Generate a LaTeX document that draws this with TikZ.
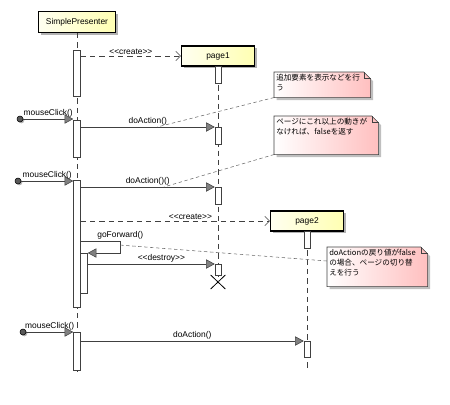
\documentclass[tikz,border=0pt]{standalone}
\usepackage{fontspec}
\setmainfont{Liberation Sans}
\newfontfamily\jpfont{Noto Sans CJK JP}
\usetikzlibrary{arrows.meta,positioning,calc,shadows,shapes.misc}

\begin{document}
\begin{tikzpicture}[x=0.75pt,y=-0.75pt,
			every node/.style={font=\fontsize{6.3}{7.5}\selectfont},
			head/.style={rectangle, draw=black, line width=0.9pt, left color=yellow!6, right color=yellow!30, minimum width=54.75pt, minimum height=15pt, inner sep=0pt, drop shadow={shadow xshift=1.8pt, shadow yshift=-1.8pt, fill=black!30, opacity=1}},
			actbar/.style={rectangle, draw=black!75, fill=white, minimum width=4.5pt, minimum height=12.75pt, inner sep=0pt, anchor=north},
			lifeline/.style={draw=black!75, dash pattern=on 4pt off 3pt},
			msg/.style={draw=black!75, -{Triangle[length=6.5pt, width=7pt, fill=black!50]}},
			createmsg/.style={draw=black!75, dash pattern=on 4pt off 3pt, -{Straight Barb[length=3.5pt, width=7pt]}},
			lab/.style={above, inner sep=1pt},
			found/.style={circle, draw=black, fill=black!65, minimum size=4.5pt, inner sep=0pt, drop shadow={shadow xshift=1pt, shadow yshift=-1pt, fill=black!30, opacity=1}},
			notebox/.style={rectangle, anchor=north west, inner sep=0pt},
			notetext/.style={anchor=north west, align=left, inner sep=1.5pt, font=\jpfont\fontsize{5.7}{7.5}\selectfont},
			notelink/.style={draw=black!60, dash pattern=on 2.5pt off 2pt},
			destroyx/.style={cross out, draw=black, line width=0.6pt, minimum width=10.5pt, minimum height=10pt, inner sep=0pt}
			]
			\useasboundingbox (0,0) rectangle (450,404);
			
			\node[head, minimum width=57.75pt, minimum height=15.75pt] (sp) at (77,22) {SimplePresenter};
			\node[head] (p1) at (218,56) {page1};
			\node[head] (p2) at (307,221) {page2};
			
			\coordinate (spend) at (77,372);
			\coordinate (p2end) at (307,369);
			\node[destroyx] (p1x) at (218,282) {};
			
			\draw[lifeline] (sp) -- (spend);
			\draw[lifeline] (p1) -- (p1x.center);
			\draw[lifeline] (p2) -- (p2end);
			
			\node[actbar, minimum width=5.25pt, minimum height=34.5pt] (a1) at (77,50) {};
			\node[actbar, minimum width=5.25pt, minimum height=27.75pt] (a2) at (77,120) {};
			\node[actbar, minimum width=5.25pt, minimum height=95.25pt] (a3) at (77,180) {};
			\node[actbar, minimum width=5.25pt, minimum height=30pt] (a3b) at (84,253) {};
			\node[actbar, minimum width=5.25pt, minimum height=28.5pt] (a4) at (77,332) {};
			\node[actbar] (p1a1) at (218,66) {};
			\node[actbar] (p1a2) at (218,127) {};
			\node[actbar] (p1a3) at (218,187) {};
			\node[actbar, minimum height=8.25pt] (p1a4) at (218,264) {};
			\node[actbar] (p2a1) at (307,231) {};
			\node[actbar, minimum height=12pt] (p2a2) at (307,341) {};
			
			\node[found] (f1) at (20,119) {};
			\node[found] (f2) at (18,181) {};
			\node[found] (f3) at (23,332) {};
			
			\draw[createmsg] (a1.east |- p1.west) -- (p1.west) node[lab, midway] {{<}{<}create{>}{>}};
			
			\draw[msg] (f1) -- (f1 -| a2.west) node[lab, midway] {mouseClick()};
			\draw[msg] (a2.east |- p1a2.north) -- (p1a2.north west) node[lab, midway] {doAction()} coordinate[pos=0.57] (m1);
			
			\draw[msg] (f2) -- (f2 -| a3.west) node[lab, midway] {mouseClick()};
			\draw[msg] (a3.east |- p1a3.north) -- (p1a3.north west) node[lab, midway] {doAction()()} coordinate[pos=0.62] (m2);
			\draw[createmsg] (a3.east |- p2.west) -- (p2.west) node[lab, pos=0.58] {{<}{<}create{>}{>}};
			\draw[msg] ([yshift=9pt]a3b.north west) -- ++(40,0) node[lab] {goForward()} |- (a3b.north east) coordinate[pos=0.17] (m3);
			\draw[msg] (a3b.east |- p1a4.north) -- (p1a4.north west) node[lab, pos=0.58] {{<}{<}destroy{>}{>}};
			
			\draw[msg] (f3) -- (f3 -| a4.west) node[lab, midway] {mouseClick()};
			\draw[msg] (a4.east |- p2a2.north) -- (p2a2.north west) node[lab, midway] {doAction()};
			
			% notes
			\node[notebox, minimum width=72pt, minimum height=18.75pt] (n1) at (274,72) {};
			\node[notebox, minimum width=78pt, minimum height=28.5pt] (n2) at (274,116) {};
			\node[notebox, minimum width=75pt, minimum height=29.25pt] (n3) at (327,247) {};
			\foreach \n in {n1,n2,n3} {
				\fill[black!25, transform canvas={shift={(2pt,-2pt)}}] (\n.south west) -- (\n.north west) -- ([xshift=-5pt]\n.north east) -- ([yshift=-5pt]\n.north east) -- (\n.south east) -- cycle;
				\shadedraw[left color=white, right color=red!25, draw=black!75] (\n.south west) -- (\n.north west) -- ([xshift=-5pt]\n.north east) -- ([yshift=-5pt]\n.north east) -- (\n.south east) -- cycle;
				\draw[black!75] ([xshift=-5pt]\n.north east) |- ([yshift=-5pt]\n.north east);
			}
			\node[notetext] (n1t) at (n1.north west) {追加要素を表示などを行\\う};
			\node[notetext] (n2t) at (n2.north west) {ページにこれ以上の動きが\\なければ、falseを返す};
			\node[notetext] (n3t) at (n3.north west) {doActionの戻り値がfalse\\の場合、ページの切り替\\えを行う};
			
			\draw[notelink] (n1.south west) -- (m1);
			\draw[notelink] (n2.south west) -- (m2);
			\draw[notelink] (m3) -- ([yshift=-10.5pt]n3.north west);
		\end{tikzpicture}
\end{document}
